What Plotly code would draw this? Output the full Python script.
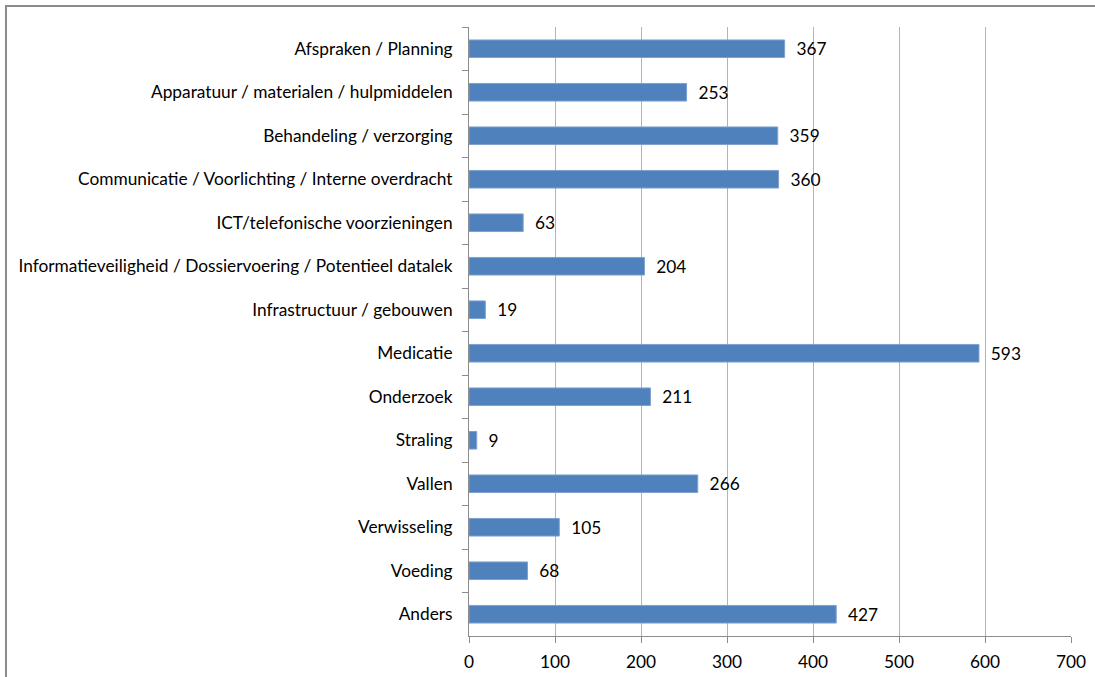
import plotly.graph_objects as go

categories = [
    "Afspraken / Planning",
    "Apparatuur / materialen / hulpmiddelen",
    "Behandeling / verzorging",
    "Communicatie / Voorlichting / Interne overdracht",
    "ICT/telefonische voorzieningen",
    "Informatieveiligheid / Dossiervoering / Potentieel datalek",
    "Infrastructuur / gebouwen",
    "Medicatie",
    "Onderzoek",
    "Straling",
    "Vallen",
    "Verwisseling",
    "Voeding",
    "Anders",
]
values = [367, 253, 359, 360, 63, 204, 19, 593, 211, 9, 266, 105, 68, 427]
x_ticks = [0, 100, 200, 300, 400, 500, 600, 700]

FONT = "Lato"
FS = 17.3
W, H = 1095, 677
L, R, T, B = 469, 24, 27, 41
pw, ph = W - L - R, H - T - B

fig = go.Figure()
fig.add_trace(go.Bar(
    x=values, y=categories, orientation="h",
    marker=dict(color="#4F81BD", line=dict(color="#7FA1CF", width=1)),
    text=["\u00a0\u00a0" + str(v) for v in values], textposition="outside",
    textfont=dict(family=FONT, size=FS, color="#000000"),
    constraintext="none",
    cliponaxis=False,
))

def px_x(p):
    return (p - L) / pw
def px_y(p):
    return (H - B - p) / ph

fig.add_shape(type="rect", xref="paper", yref="paper",
              x0=px_x(6), x1=px_x(1100), y0=px_y(6), y1=px_y(690),
              line=dict(color="#8C8C8C", width=2), layer="below")

fig.update_layout(
    width=W, height=H,
    margin=dict(l=L, r=R, t=T, b=B, autoexpand=False),
    paper_bgcolor="white", plot_bgcolor="white",
    bargap=0.595,
    showlegend=False,
    font=dict(family=FONT, size=FS, color="#000000"),
    xaxis=dict(
        range=[0, 700], tickvals=x_ticks, ticktext=[str(t) for t in x_ticks],
        showgrid=True, gridcolor="#B3B3B3", gridwidth=1,
        showline=True, linecolor="#8C8C8C", linewidth=1,
        ticks="outside", ticklen=6, tickcolor="#8C8C8C",
        ticklabelstandoff=4, automargin=False,
        zeroline=False, tickfont=dict(family=FONT, size=FS, color="#000000"),
    ),
    yaxis=dict(
        autorange="reversed", showgrid=False,
        showline=True, linecolor="#8C8C8C", linewidth=1,
        ticks="outside", ticklen=6, tickcolor="#8C8C8C",
        tickson="boundaries", ticklabelstandoff=12, automargin=False,
        tickfont=dict(family=FONT, size=FS, color="#000000"),
    ),
)

fig.write_html("out.html")
